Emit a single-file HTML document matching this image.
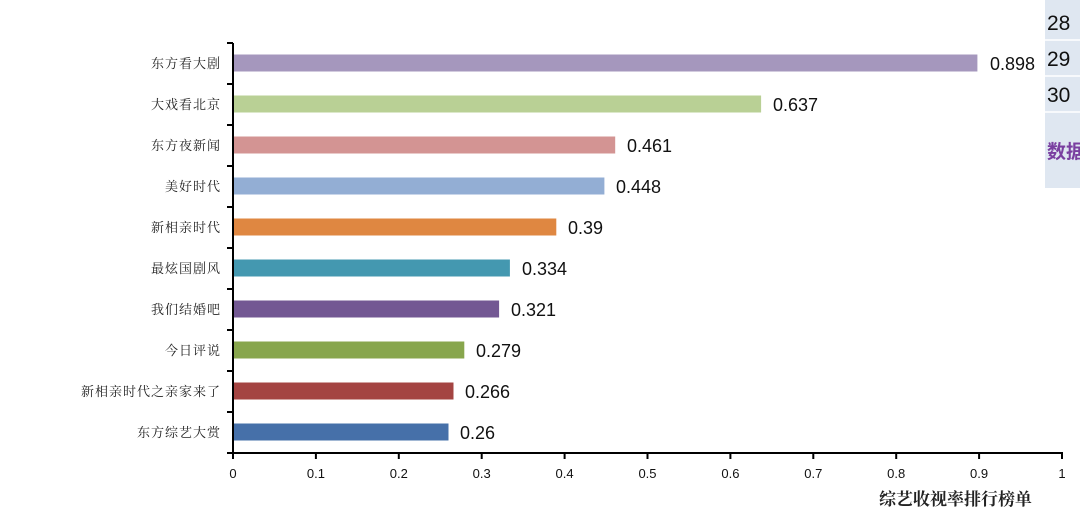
<!DOCTYPE html>
<html><head><meta charset="utf-8"><style>
body{margin:0;background:#fff;width:1080px;height:525px;overflow:hidden}
svg{display:block}
.c{font-family:"Noto Serif CJK SC","Liberation Serif",serif;font-size:13px;fill:#222;letter-spacing:1px}
.v{font-family:"Liberation Sans",sans-serif;font-size:18px;fill:#111}
.t{font-family:"Liberation Sans",sans-serif;font-size:13px;fill:#111}
</style></head><body>
<svg width="1080" height="525" xmlns="http://www.w3.org/2000/svg">
<rect x="1045" y="0" width="35" height="188" fill="#dfe7f1"/>
<line x1="1045" y1="40" x2="1080" y2="40" stroke="#fff" stroke-width="1.5"/>
<line x1="1045" y1="76" x2="1080" y2="76" stroke="#fff" stroke-width="1.5"/>
<line x1="1045" y1="112" x2="1080" y2="112" stroke="#fff" stroke-width="1.5"/>
<g font-family="Liberation Sans,sans-serif" font-size="21" fill="#111">
<text x="1047" y="30">28</text><text x="1047" y="66">29</text><text x="1047" y="102">30</text></g>
<text x="1047" y="158" font-family="Noto Sans CJK SC,sans-serif" font-size="19" font-weight="bold" fill="#7a3fa0">数据</text>

<rect x="233" y="54.5" width="744.4" height="17" fill="#a597bd"/>
<rect x="233" y="95.5" width="528.1" height="17" fill="#b9d095"/>
<rect x="233" y="136.5" width="382.2" height="17" fill="#d39493"/>
<rect x="233" y="177.5" width="371.4" height="17" fill="#93aed4"/>
<rect x="233" y="218.5" width="323.3" height="17" fill="#df8741"/>
<rect x="233" y="259.5" width="276.9" height="17" fill="#4498b0"/>
<rect x="233" y="300.5" width="266.1" height="17" fill="#735893"/>
<rect x="233" y="341.5" width="231.3" height="17" fill="#88a64d"/>
<rect x="233" y="382.5" width="220.5" height="17" fill="#a44442"/>
<rect x="233" y="423.5" width="215.5" height="17" fill="#4670a9"/>

<text class="v" x="990" y="70">0.898</text>
<text class="v" x="773" y="111">0.637</text>
<text class="v" x="627" y="152">0.461</text>
<text class="v" x="616" y="193">0.448</text>
<text class="v" x="568" y="234">0.39</text>
<text class="v" x="522" y="275">0.334</text>
<text class="v" x="511" y="316">0.321</text>
<text class="v" x="476" y="357">0.279</text>
<text class="v" x="465" y="398">0.266</text>
<text class="v" x="460" y="439">0.26</text>

<g text-anchor="end">
<text class="c" x="221" y="68">东方看大剧</text>
<text class="c" x="221" y="109">大戏看北京</text>
<text class="c" x="221" y="150">东方夜新闻</text>
<text class="c" x="221" y="191">美好时代</text>
<text class="c" x="221" y="232">新相亲时代</text>
<text class="c" x="221" y="273">最炫国剧风</text>
<text class="c" x="221" y="314">我们结婚吧</text>
<text class="c" x="221" y="355">今日评说</text>
<text class="c" x="221" y="396">新相亲时代之亲家来了</text>
<text class="c" x="221" y="437">东方综艺大赏</text>
</g>

<line x1="233" y1="43" x2="233" y2="453" stroke="#000" stroke-width="2"/>
<line x1="232" y1="453" x2="1063" y2="453" stroke="#000" stroke-width="2"/>
<g stroke="#000" stroke-width="2">
<line x1="227" y1="43" x2="233" y2="43"/><line x1="227" y1="84" x2="233" y2="84"/>
<line x1="227" y1="125" x2="233" y2="125"/><line x1="227" y1="166" x2="233" y2="166"/>
<line x1="227" y1="207" x2="233" y2="207"/><line x1="227" y1="248" x2="233" y2="248"/>
<line x1="227" y1="289" x2="233" y2="289"/><line x1="227" y1="330" x2="233" y2="330"/>
<line x1="227" y1="371" x2="233" y2="371"/><line x1="227" y1="412" x2="233" y2="412"/>
<line x1="227" y1="453" x2="233" y2="453"/>
<line x1="233" y1="453" x2="233" y2="459"/><line x1="315.9" y1="453" x2="315.9" y2="459"/>
<line x1="398.8" y1="453" x2="398.8" y2="459"/><line x1="481.7" y1="453" x2="481.7" y2="459"/>
<line x1="564.6" y1="453" x2="564.6" y2="459"/><line x1="647.5" y1="453" x2="647.5" y2="459"/>
<line x1="730.4" y1="453" x2="730.4" y2="459"/><line x1="813.3" y1="453" x2="813.3" y2="459"/>
<line x1="896.2" y1="453" x2="896.2" y2="459"/><line x1="979.1" y1="453" x2="979.1" y2="459"/>
<line x1="1062" y1="453" x2="1062" y2="459"/>
</g>
<g text-anchor="middle">
<text class="t" x="233" y="478">0</text><text class="t" x="315.9" y="478">0.1</text>
<text class="t" x="398.8" y="478">0.2</text><text class="t" x="481.7" y="478">0.3</text>
<text class="t" x="564.6" y="478">0.4</text><text class="t" x="647.5" y="478">0.5</text>
<text class="t" x="730.4" y="478">0.6</text><text class="t" x="813.3" y="478">0.7</text>
<text class="t" x="896.2" y="478">0.8</text><text class="t" x="979.1" y="478">0.9</text>
<text class="t" x="1062" y="478">1</text>
</g>
<text x="1032" y="505" text-anchor="end" font-family="Noto Serif CJK SC,serif" font-size="17" font-weight="bold" fill="#222">综艺收视率排行榜单</text>
</svg>
</body></html>
